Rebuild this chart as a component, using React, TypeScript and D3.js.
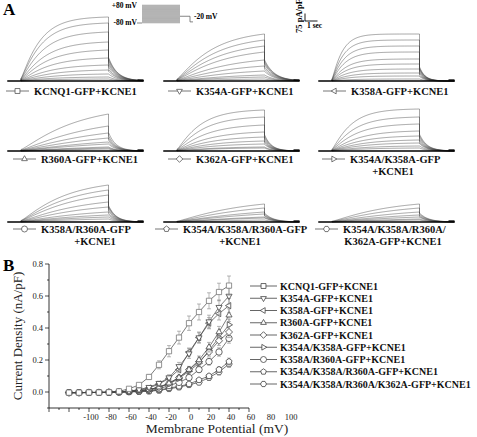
import React from "react";
import * as d3 from "d3";

// ---------- Panel B data (I-V curves) ----------
const voltages = [-120, -110, -100, -90, -80, -70, -60, -50, -40, -30, -20, -10, 0, 10, 20, 30, 40];
const seriesNames = [
  "KCNQ1-GFP+KCNE1",
  "K354A-GFP+KCNE1",
  "K358A-GFP+KCNE1",
  "R360A-GFP+KCNE1",
  "K362A-GFP+KCNE1",
  "K354A/K358A-GFP+KCNE1",
  "K358A/R360A-GFP+KCNE1",
  "K354A/K358A/R360A-GFP+KCNE1",
  "K354A/K358A/R360A/K362A-GFP+KCNE1",
];
const seriesSymbols = ["square", "triDown", "triLeft", "triUp", "diamond", "triRight", "circle", "pentagon", "hexagon"];

const ivKCNQ1 = [-0.004, -0.004, -0.003, -0.003, -0.002, 0.004, 0.02, 0.044, 0.094, 0.17, 0.255, 0.34, 0.43, 0.5, 0.57, 0.625, 0.665];
const ivK354A = [-0.004, -0.004, -0.003, -0.003, -0.002, 0.0, 0.005, 0.015, 0.03, 0.055, 0.09, 0.16, 0.24, 0.34, 0.44, 0.53, 0.6];
const ivK358A = [-0.004, -0.004, -0.003, -0.003, -0.002, 0.0, 0.005, 0.012, 0.025, 0.05, 0.085, 0.14, 0.25, 0.34, 0.43, 0.49, 0.54];
const ivR360A = [-0.004, -0.004, -0.003, -0.003, -0.002, 0.0, 0.003, 0.008, 0.015, 0.03, 0.055, 0.09, 0.14, 0.2, 0.28, 0.375, 0.48];
const ivK362A = [-0.004, -0.004, -0.003, -0.003, -0.002, 0.0, 0.003, 0.008, 0.015, 0.03, 0.055, 0.09, 0.14, 0.19, 0.25, 0.32, 0.375];
const ivK354AK358A = [-0.004, -0.004, -0.003, -0.003, -0.002, 0.0, 0.003, 0.008, 0.015, 0.03, 0.05, 0.085, 0.13, 0.18, 0.26, 0.34, 0.42];
const ivK358AR360A = [-0.004, -0.004, -0.003, -0.003, -0.002, 0.0, 0.002, 0.005, 0.01, 0.02, 0.04, 0.06, 0.09, 0.14, 0.19, 0.25, 0.335];
const ivTriple = [-0.004, -0.004, -0.003, -0.003, -0.002, 0.0, 0.001, 0.003, 0.006, 0.012, 0.025, 0.035, 0.05, 0.075, 0.1, 0.14, 0.19];
const ivQuad = [-0.004, -0.004, -0.003, -0.003, -0.002, 0.0, 0.001, 0.003, 0.005, 0.01, 0.02, 0.03, 0.045, 0.06, 0.09, 0.125, 0.175];

const errKCNQ1 = [0.002, 0.002, 0.002, 0.002, 0.002, 0.003, 0.005, 0.008, 0.015, 0.025, 0.035, 0.04, 0.045, 0.05, 0.05, 0.055, 0.06];
const errK354A = [0.002, 0.002, 0.002, 0.002, 0.002, 0.002, 0.003, 0.005, 0.008, 0.012, 0.018, 0.025, 0.03, 0.035, 0.04, 0.045, 0.05];
const errK358A = [0.002, 0.002, 0.002, 0.002, 0.002, 0.002, 0.003, 0.004, 0.006, 0.01, 0.015, 0.02, 0.025, 0.03, 0.035, 0.04, 0.045];
const errR360A = [0.002, 0.002, 0.002, 0.002, 0.002, 0.002, 0.002, 0.003, 0.005, 0.008, 0.012, 0.015, 0.02, 0.025, 0.03, 0.035, 0.04];
const errK362A = [0.002, 0.002, 0.002, 0.002, 0.002, 0.002, 0.002, 0.003, 0.005, 0.008, 0.01, 0.013, 0.018, 0.022, 0.026, 0.03, 0.035];
const errK354AK358A = [0.002, 0.002, 0.002, 0.002, 0.002, 0.002, 0.002, 0.003, 0.005, 0.008, 0.01, 0.013, 0.018, 0.022, 0.026, 0.03, 0.035];
const errK358AR360A = [0.002, 0.002, 0.002, 0.002, 0.002, 0.002, 0.002, 0.003, 0.004, 0.006, 0.008, 0.01, 0.014, 0.018, 0.022, 0.026, 0.03];
const errTriple = [0.002, 0.002, 0.002, 0.002, 0.002, 0.002, 0.002, 0.002, 0.003, 0.004, 0.006, 0.008, 0.01, 0.012, 0.015, 0.018, 0.022];
const errQuad = [0.002, 0.002, 0.002, 0.002, 0.002, 0.002, 0.002, 0.002, 0.003, 0.004, 0.006, 0.008, 0.01, 0.012, 0.015, 0.018, 0.02];

const ivSeries = [ivKCNQ1, ivK354A, ivK358A, ivR360A, ivK362A, ivK354AK358A, ivK358AR360A, ivTriple, ivQuad];
const ivErrors = [errKCNQ1, errK354A, errK358A, errR360A, errK362A, errK354AK358A, errK358AR360A, errTriple, errQuad];

const xTickLabels = [-100, -80, -60, -40, -20, 0, 20, 40, 60, 80, 100];
const yTickValues = [0, 0.2, 0.4, 0.6, 0.8];
const yTickLabels = ["0.0", "0.2", "0.4", "0.6", "0.8"];

// ---------- Panel A data (current traces) ----------
const panelLabels = [
  ["KCNQ1-GFP+KCNE1"],
  ["K354A-GFP+KCNE1"],
  ["K358A-GFP+KCNE1"],
  ["R360A-GFP+KCNE1"],
  ["K362A-GFP+KCNE1"],
  ["K354A/K358A-GFP", "+KCNE1"],
  ["K358A/R360A-GFP", "+KCNE1"],
  ["K354A/K358A/R360A-GFP", "+KCNE1"],
  ["K354A/K358A/R360A/", "K362A-GFP+KCNE1"],
];
// end-of-pulse amplitude of each sweep (pA/pF)
const sweepKCNQ1 = [640, 580, 490, 390, 310, 230, 160, 110, 70, 40, 20];
const sweepK354A = [470, 410, 350, 290, 210, 150, 100, 60, 40, 20];
const sweepK358A = [470, 410, 350, 290, 220, 170, 120, 80, 50, 20];
const sweepR360A = [370, 250, 180, 130, 90, 70, 40, 30, 20];
const sweepK362A = [410, 340, 260, 190, 140, 100, 70, 40, 30];
const sweepK354AK358A = [420, 340, 270, 200, 150, 110, 80, 50, 30];
const sweepK358AR360A = [370, 320, 270, 200, 150, 100, 70, 50, 30];
const sweepTriple = [180, 140, 100, 80, 50, 40, 20];
const sweepQuad = [180, 140, 100, 70, 50, 30, 20];
const sweeps = [sweepKCNQ1, sweepK354A, sweepK358A, sweepR360A, sweepK362A, sweepK354AK358A, sweepK358AR360A, sweepTriple, sweepQuad];
// activation time constant (s) and tail fraction per panel
const activationTau = [1.4, 2.6, 0.75, 4.0, 1.7, 1.4, 3.2, 4.5, 4.0];
const tailFraction = [0.37, 0.45, 0.3, 0.5, 0.4, 0.4, 0.45, 0.5, 0.5];
const tailTau = [0.7, 0.8, 0.45, 0.6, 0.55, 0.6, 0.6, 0.7, 0.7];

const protocolSteps = [-80, -70, -60, -50, -40, -30, -20, -10, 0, 10, 20, 30, 40, 50, 60, 70, 80];

// ---------- helpers ----------
const FONT = "'Liberation Serif', 'Times New Roman', serif";

function symPath(kind: string, r: number): string {
  const poly = (n: number, rot: number, rr = r) => {
    const pts = d3.range(n).map((i) => {
      const a = rot + (i * 2 * Math.PI) / n;
      return [rr * Math.cos(a), rr * Math.sin(a)];
    });
    return "M" + pts.map((p) => p[0].toFixed(2) + "," + p[1].toFixed(2)).join("L") + "Z";
  };
  switch (kind) {
    case "square": {
      const s = r * 0.82;
      return `M${-s},${-s}H${s}V${s}H${-s}Z`;
    }
    case "triUp":
      return poly(3, -Math.PI / 2, r * 1.1);
    case "triDown":
      return poly(3, Math.PI / 2, r * 1.1);
    case "triLeft":
      return poly(3, Math.PI, r * 1.1);
    case "triRight":
      return poly(3, 0, r * 1.1);
    case "diamond":
      return poly(4, -Math.PI / 2, r * 1.1);
    case "pentagon":
      return poly(5, -Math.PI / 2, r);
    case "hexagon":
      return poly(6, 0, r);
    default:
      return `M${r},0A${r},${r} 0 1,1 ${-r},0A${r},${r} 0 1,1 ${r},0Z`;
  }
}

// layout of panel A
const colPulseX = [21, 177, 332];
const rowBaseY = [81, 151, 222];
const labelLineX = [
  [6, 168, 323],
  [13, 168, 322],
  [13, 155, 315],
];
const secondLineCenter = [
  [0, 0, 0],
  [0, 0, 393],
  [95, 240, 393],
];
const labelOffsetY = [10, 8, 7];

const ampScale = d3.scaleLinear().domain([0, 75]).range([0, 7.5]);
const timeScale = d3.scaleLinear().domain([0, 1]).range([0, 12.5]);
const PRE = 1.1;
const PULSE = 7.0;
const POST = 2.8;

function Traces({ idx }: { idx: number }) {
  const row = Math.floor(idx / 3);
  const col = idx % 3;
  const x0 = colPulseX[col];
  const yb = rowBaseY[row];
  const amps = sweeps[idx];
  const top = amps[0];
  const tau0 = activationTau[idx];
  const tf = tailFraction[idx];
  const tt = tailTau[idx];
  const line = d3
    .line<[number, number]>()
    .x((d) => x0 + timeScale(d[0]))
    .y((d) => yb - ampScale(d[1]));
  const paths = amps.map((A) => {
    const tau = tau0 * (1 + 0.7 * (1 - A / top));
    const norm = Math.pow(1 - Math.exp(-PULSE / tau), 1.2);
    const inst = 0.04;
    const pts: [number, number][] = [[0, 0]];
    d3.range(0, PULSE + 1e-6, 0.05).forEach((t) => {
      const f = Math.pow(1 - Math.exp(-t / tau), 1.2) / norm;
      pts.push([t, A * (inst + (1 - inst) * f)]);
    });
    const tail0 = Math.min(A, tf * Math.sqrt(A * top));
    d3.range(0, POST + 1e-6, 0.05).forEach((t) => {
      pts.push([PULSE + t, tail0 * Math.exp(-t / tt)]);
    });
    return line(pts) as string;
  });
  return (
    <g>
      {paths.map((p, i) => (
        <path key={i} d={p} fill="none" stroke="#3a3a3a" strokeWidth={0.45} />
      ))}
      <line
        x1={x0 - timeScale(PRE)}
        x2={x0 + timeScale(PULSE + POST)}
        y1={yb}
        y2={yb}
        stroke="#000"
        strokeWidth={1.5}
      />
      <line x1={x0 + timeScale(PULSE + POST) - 6} x2={x0 + timeScale(PULSE + POST)} y1={yb - 1} y2={yb - 1} stroke="#000" strokeWidth={1.3} />
    </g>
  );
}

function PanelLabel({ idx }: { idx: number }) {
  const row = Math.floor(idx / 3);
  const col = idx % 3;
  const lx = labelLineX[row][col];
  const ly = rowBaseY[row] + labelOffsetY[row];
  const lines = panelLabels[idx];
  return (
    <g>
      <line x1={lx} x2={lx + 23} y1={ly} y2={ly} stroke="#666" strokeWidth={0.9} />
      <path d={symPath(seriesSymbols[idx], 3)} transform={`translate(${lx + 11.5},${ly})`} fill="#fff" stroke="#555" strokeWidth={0.8} />
      <text x={lx + 28} y={ly + 3.8} fontFamily={FONT} fontWeight="bold" fontSize={10.5} fill="#111">
        {lines[0]}
      </text>
      {lines.length > 1 && (
        <text x={secondLineCenter[row][col]} y={ly + 15.5} textAnchor="middle" fontFamily={FONT} fontWeight="bold" fontSize={10.5} fill="#111">
          {lines[1]}
        </text>
      )}
    </g>
  );
}

function Protocol() {
  const py = d3.scaleLinear().domain([-80, 80]).range([23, 5]);
  const bx0 = 142;
  const bx1 = 180;
  return (
    <g>
      <rect x={bx0} y={py(80)} width={bx1 - bx0} height={py(-80) - py(80)} fill="#c4c4c4" />
      {protocolSteps.map((v, i) => (
        <line key={i} x1={bx0} x2={bx1} y1={py(v)} y2={py(v)} stroke="#9a9a9a" strokeWidth={0.45} />
      ))}
      <line x1={137} x2={bx0} y1={py(-80)} y2={py(-80)} stroke="#666" strokeWidth={0.8} />
      <line x1={bx1} x2={190} y1={py(-20)} y2={py(-20)} stroke="#666" strokeWidth={0.8} />
      <path d={`M190,${py(-20)}V${py(-70)}H193`} fill="none" stroke="#666" strokeWidth={0.8} />
      <text x={137} y={py(80) + 3} textAnchor="end" fontFamily={FONT} fontWeight="bold" fontSize={7.5}>
        +80 mV
      </text>
      <text x={137} y={py(-80) + 2} textAnchor="end" fontFamily={FONT} fontWeight="bold" fontSize={7.5}>
        -80 mV
      </text>
      <text x={194} y={py(-20) + 3} fontFamily={FONT} fontWeight="bold" fontSize={7.5}>
        -20 mV
      </text>
    </g>
  );
}

function ScaleBar() {
  const bx = 305;
  const by = 21;
  return (
    <g>
      <path d={`M${bx},${by - ampScale(75)}V${by}H${bx + timeScale(1)}`} fill="none" stroke="#000" strokeWidth={0.9} />
      <text transform={`translate(${bx - 3},${by - 5}) rotate(-90)`} textAnchor="middle" fontFamily={FONT} fontWeight="bold" fontSize={8.5}>
        75 pA/pF
      </text>
      <text x={bx + 2} y={by + 7} fontFamily={FONT} fontWeight="bold" fontSize={7.5}>
        1 sec
      </text>
    </g>
  );
}

function IVChart() {
  const x = d3.scaleLinear().domain([-140, 60]).range([49, 249]);
  const y = d3.scaleLinear().domain([-0.1, 0.8]).range([408, 264]);
  const line = d3
    .line<number>()
    .x((_, i) => x(voltages[i]))
    .y((d) => y(d));
  const majorX = d3.range(-140, 61, 20);
  const minorX = d3.range(-130, 60, 20);
  const minorY = [-0.1, 0.1, 0.3, 0.5, 0.7];
  const order = [8, 7, 6, 5, 4, 3, 2, 1, 0];
  return (
    <g>
      {order.map((s) => (
        <g key={s}>
          <path d={line(ivSeries[s]) as string} fill="none" stroke="#444" strokeWidth={0.7} />
          {ivSeries[s].map((v, i) => {
            const e = ivErrors[s][i];
            const cx = x(voltages[i]);
            return (
              <g key={i} stroke="#888" strokeWidth={0.6}>
                <line x1={cx} x2={cx} y1={y(v - e)} y2={y(v + e)} />
                <line x1={cx - 2} x2={cx + 2} y1={y(v - e)} y2={y(v - e)} />
                <line x1={cx - 2} x2={cx + 2} y1={y(v + e)} y2={y(v + e)} />
              </g>
            );
          })}
          {ivSeries[s].map((v, i) => (
            <path
              key={"s" + i}
              d={symPath(seriesSymbols[s], 3.2)}
              transform={`translate(${x(voltages[i])},${y(v)})`}
              fill="#fff"
              stroke={s === 0 ? "#777" : "#444"}
              strokeWidth={0.8}
            />
          ))}
        </g>
      ))}
      {/* axes */}
      <line x1={x(-140)} x2={x(60)} y1={408} y2={408} stroke="#000" strokeWidth={0.8} />
      <line x1={49} x2={49} y1={y(-0.1)} y2={y(0.8)} stroke="#000" strokeWidth={0.8} />
      {majorX.map((v) => (
        <line key={"mx" + v} x1={x(v)} x2={x(v)} y1={408} y2={412} stroke="#000" strokeWidth={0.7} />
      ))}
      {minorX.map((v) => (
        <line key={"nx" + v} x1={x(v)} x2={x(v)} y1={408} y2={410} stroke="#000" strokeWidth={0.7} />
      ))}
      {xTickLabels.map((v) => (
        <text key={"lx" + v} x={x(v) + 2} y={420} textAnchor="middle" fontFamily={FONT} fontSize={8.5} fill="#222">
          {v}
        </text>
      ))}
      {yTickValues.map((v, i) => (
        <g key={"my" + v}>
          <line x1={45} x2={49} y1={y(v)} y2={y(v)} stroke="#000" strokeWidth={0.7} />
          <text x={43} y={y(v) + 3} textAnchor="end" fontFamily={FONT} fontSize={8.5} fill="#222">
            {yTickLabels[i]}
          </text>
        </g>
      ))}
      {minorY.map((v) => (
        <line key={"ny" + v} x1={47} x2={49} y1={y(v)} y2={y(v)} stroke="#000" strokeWidth={0.7} />
      ))}
      <text x={217} y={433} textAnchor="middle" fontFamily={FONT} fontSize={13.5} fill="#222">
        Membrane Potential (mV)
      </text>
      <text transform={`translate(22,${(264 + 408) / 2}) rotate(-90)`} textAnchor="middle" fontFamily={FONT} fontSize={13} fill="#222">
        Current Density (nA/pF)
      </text>
      {/* legend */}
      {seriesNames.map((n, i) => {
        const ly = 286 + i * 12.25;
        return (
          <g key={"lg" + i}>
            <line x1={250} x2={277} y1={ly} y2={ly} stroke="#555" strokeWidth={0.9} />
            <path d={symPath(seriesSymbols[i], 3)} transform={`translate(263.5,${ly})`} fill="#fff" stroke="#444" strokeWidth={0.8} />
            <text x={280} y={ly + 3.6} fontFamily={FONT} fontWeight="bold" fontSize={10} fill="#111">
              {n}
            </text>
          </g>
        );
      })}
    </g>
  );
}

export default function App() {
  return (
    <svg
      width={477}
      height={437}
      viewBox="0 0 477 437"
      style={{ position: "absolute", left: 0, top: 0, background: "#fff" }}
    >
      <rect width={477} height={437} fill="#fff" />
      <text x={3} y={15} fontFamily={FONT} fontWeight="bold" fontSize={17}>
        A
      </text>
      <text x={3} y={271} fontFamily={FONT} fontWeight="bold" fontSize={17}>
        B
      </text>
      <Protocol />
      <ScaleBar />
      {sweeps.map((_, i) => (
        <Traces key={i} idx={i} />
      ))}
      {sweeps.map((_, i) => (
        <PanelLabel key={"l" + i} idx={i} />
      ))}
      <IVChart />
    </svg>
  );
}
